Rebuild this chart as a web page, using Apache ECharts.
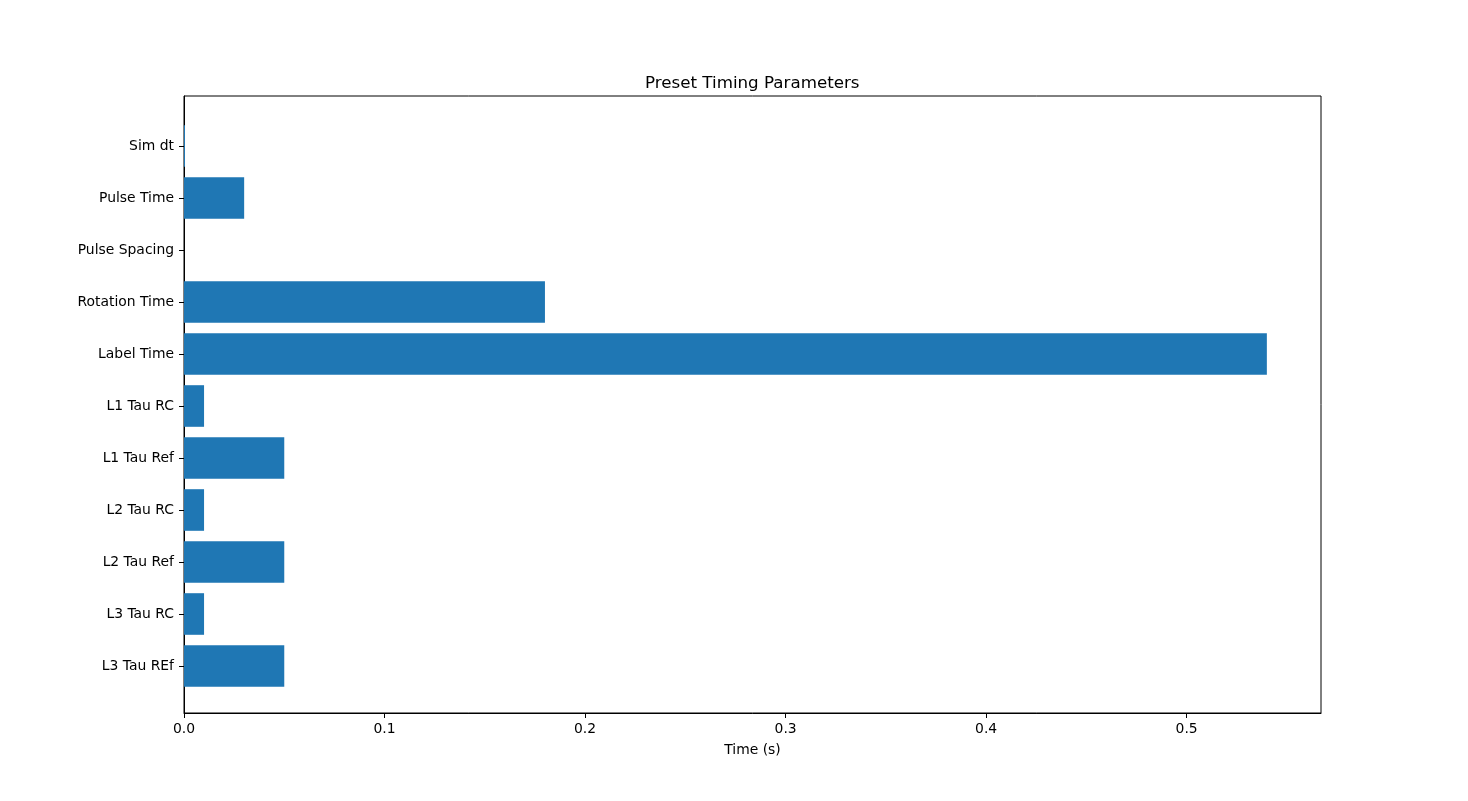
<!DOCTYPE html>
<html>
<head>
    <meta charset="utf-8">
    <title>Preset Timing Parameters</title>
    <script src="https://cdn.jsdelivr.net/npm/echarts@6.0.0/dist/echarts.min.js"></script>
    <style>
        html, body { margin: 0; padding: 0; background: #ffffff; }
        #chart { width: 1468px; height: 801px; }
    </style>
</head>
<body>
<div id="chart"></div>
<script>
    // 数据
    var categories = ['Sim dt', 'Pulse Time', 'Pulse Spacing', 'Rotation Time', 'Label Time',
        'L1 Tau RC', 'L1 Tau Ref', 'L2 Tau RC', 'L2 Tau Ref', 'L3 Tau RC', 'L3 Tau REf'];
    var times = [0.0005, 0.03, 0, 0.18, 0.54, 0.01, 0.05, 0.01, 0.05, 0.01, 0.05];
    var xTicks = [0.0, 0.1, 0.2, 0.3, 0.4, 0.5];

    var xMax = 0.567;
    var font = 'DejaVu Sans';

    var chart = echarts.init(document.getElementById('chart'));
    var option = {
        animation: false,
        textStyle: { fontFamily: font },
        title: {
            text: 'Preset Timing Parameters',
            left: 640, top: 70,
            textStyle: { fontFamily: font, fontSize: 16.7, fontWeight: 'normal', color: '#000' }
        },
        grid: [
            // 外框 + x 轴
            { left: 184, right: 147, top: 96, bottom: 88, show: true, borderColor: '#000', borderWidth: 1 },
            // 柱子
            { left: 184, right: 147, top: 120, bottom: 109 }
        ],
        xAxis: [
            {
                gridIndex: 0, type: 'value', min: 0, max: xMax, interval: 0.1,
                name: 'Time (s)', nameLocation: 'middle', nameGap: 30,
                nameTextStyle: { fontFamily: font, fontSize: 13.9, color: '#000' },
                axisLine: { show: true, lineStyle: { color: '#000', width: 1 } },
                axisTick: { show: true, length: 5, lineStyle: { color: '#000' } },
                axisLabel: {
                    fontFamily: font, fontSize: 13.9, color: '#000', margin: 9,
                    showMaxLabel: false,
                    formatter: function (v) { return v.toFixed(1); }
                },
                splitLine: { show: false }
            },
            { gridIndex: 1, type: 'value', min: 0, max: xMax, show: false }
        ],
        yAxis: [
            {
                gridIndex: 0, type: 'value', min: 0, max: 1,
                axisLine: { show: true, lineStyle: { color: '#000', width: 1 } },
                axisTick: { show: false }, axisLabel: { show: false }, splitLine: { show: false }
            },
            {
                gridIndex: 1, type: 'category', data: categories, inverse: true,
                axisLine: { show: false },
                axisTick: { show: true, alignWithLabel: true, length: 5, lineStyle: { color: '#000' } },
                axisLabel: { fontFamily: font, fontSize: 13.9, color: '#000', margin: 10 },
                splitLine: { show: false }
            }
        ],
        series: [
            {
                type: 'bar', xAxisIndex: 1, yAxisIndex: 1,
                data: times, barWidth: '80%',
                itemStyle: { color: '#1f77b4' }
            }
        ]
    };
    chart.setOption(option);

    window.onresize = function () {
        chart.resize();
    };
</script>
</body>
</html>
